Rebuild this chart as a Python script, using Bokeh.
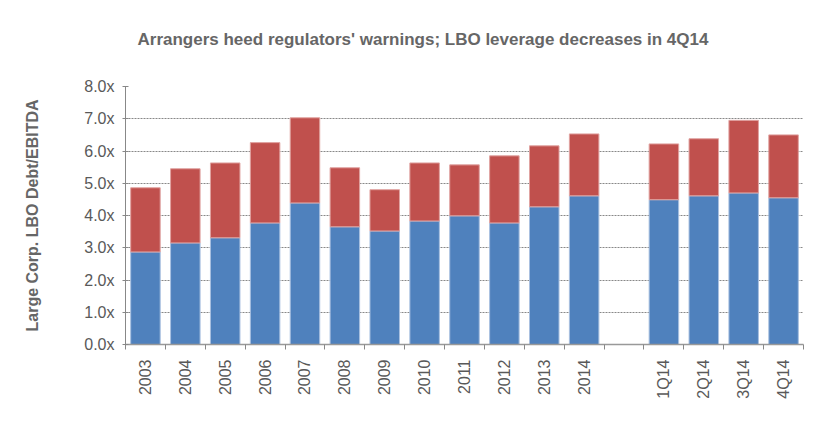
import numpy as np
from bokeh.plotting import figure
from bokeh.models import ColumnDataSource, Range1d, FixedTicker, PrintfTickFormatter
from bokeh.embed import file_html
from bokeh.resources import INLINE

title_text = "Arrangers heed regulators' warnings; LBO leverage decreases in 4Q14"
categories = ["2003", "2004", "2005", "2006", "2007", "2008", "2009", "2010",
              "2011", "2012", "2013", "2014", "", "1Q14", "2Q14", "3Q14", "4Q14"]
senior = [2.87, 3.15, 3.31, 3.77, 4.39, 3.65, 3.52, 3.83,
          3.99, 3.77, 4.27, 4.61, 0.0, 4.49, 4.61, 4.70, 4.55]
sub = [1.99, 2.30, 2.32, 2.49, 2.64, 1.83, 1.28, 1.80,
       1.58, 2.08, 1.89, 1.92, 0.0, 1.73, 1.77, 2.25, 1.95]
y_ticks = [0, 1, 2, 3, 4, 5, 6, 7, 8]

n = len(categories)
xs = [i + 0.5 for i in range(n)]
mask = [c != "" for c in categories]
src = ColumnDataSource(dict(
    x=[x for x, m in zip(xs, mask) if m],
    senior=[s for s, m in zip(senior, mask) if m],
    total=[s + r for s, r, m in zip(senior, sub, mask) if m],
))

p = figure(width=812, height=406, output_backend="svg", toolbar_location=None,
           x_range=Range1d(0, n), y_range=Range1d(0, 8),
           min_border_left=125, min_border_right=9, min_border_top=86,
           min_border_bottom=62)
p.outline_line_color = None
p.background_fill_color = "white"

p.vbar(x="x", bottom=0, top="senior", width=0.74, source=src,
       fill_color="#4F81BD", line_color="#A9C0E0", line_width=1)
p.vbar(x="x", bottom="senior", top="total", width=0.74, source=src,
       fill_color="#C0504D", line_color="#E0A3A1", line_width=1)

p.title.text = title_text + "\n "
p.title.text_font = "Liberation Sans"
p.title.text_font_size = "17px"
p.title.text_color = "#666666"
p.title.text_font_style = "bold"
p.title.align = "left"
p.title.offset = 12
p.title.standoff = 38

# x axis
xa = p.xaxis[0]
xa.ticker = FixedTicker(ticks=xs, minor_ticks=list(range(n + 1)))
xa.major_label_overrides = {x: c for x, c in zip(xs, categories)}
xa.major_label_orientation = np.pi / 2
xa.major_tick_line_color = None
xa.minor_tick_line_color = "#888888"
xa.minor_tick_out = 5
xa.minor_tick_in = 0
xa.axis_line_color = "#999999"
xa.axis_line_width = 1.5
xa.major_label_text_font = "Liberation Sans"
xa.major_label_text_font_size = "16px"
xa.major_label_text_color = "#595959"
xa.major_label_standoff = 9

# y axis
ya = p.yaxis[0]
ya.ticker = FixedTicker(ticks=y_ticks)
ya.formatter = PrintfTickFormatter(format="%.1fx")
ya.axis_line_color = "#888888"
ya.major_tick_line_color = "#888888"
ya.major_tick_in = 3
ya.major_tick_out = 3
ya.minor_tick_line_color = None
ya.major_label_text_font = "Liberation Sans"
ya.major_label_text_font_size = "16px"
ya.major_label_text_color = "#595959"
ya.major_label_standoff = 8
ya.axis_label = "Large Corp. LBO Debt/EBITDA"
ya.axis_label_text_font = "Liberation Sans"
ya.axis_label_text_font_size = "16px"
ya.axis_label_text_font_style = "bold"
ya.axis_label_text_color = "#666666"
ya.axis_label_standoff = 40

p.xgrid.grid_line_color = None
p.ygrid.grid_line_color = "#888888"
p.ygrid.grid_line_dash = "2 1"
p.ygrid.grid_line_width = 1

open("out.html", "w").write(file_html(p, INLINE))
